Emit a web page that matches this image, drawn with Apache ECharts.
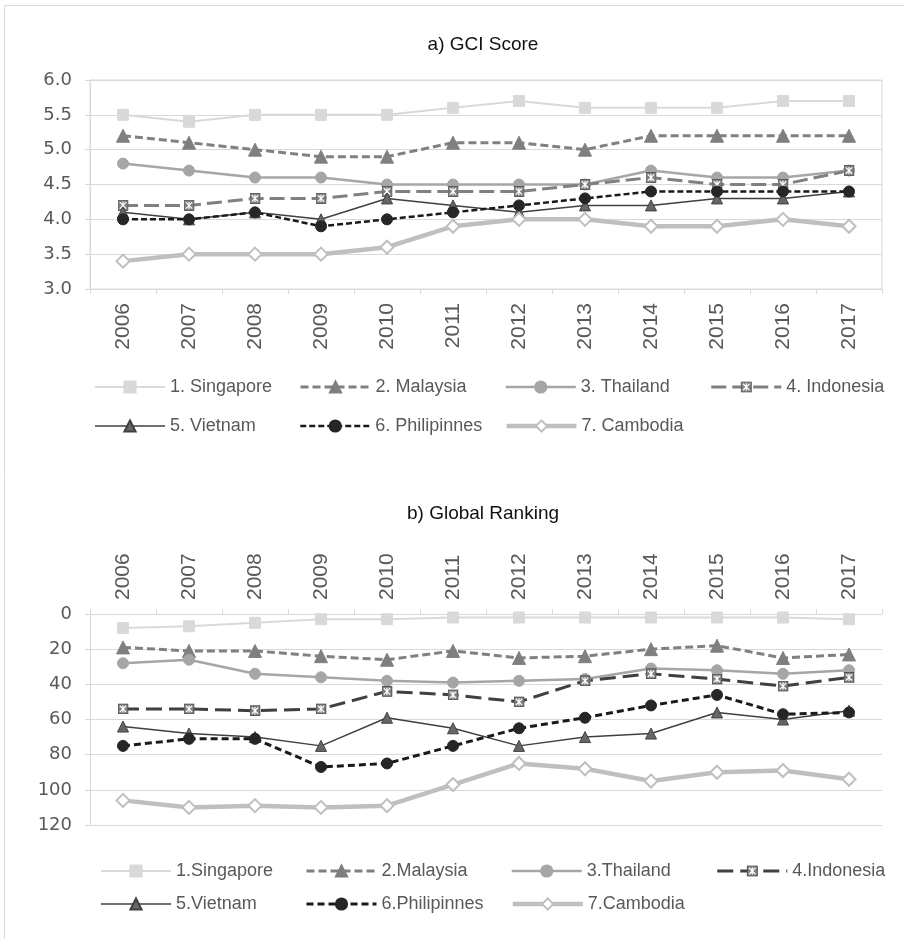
<!DOCTYPE html>
<html>
<head>
<meta charset="utf-8">
<script src="https://cdn.jsdelivr.net/npm/echarts@6/dist/echarts.min.js"></script>
<style>
html,body{margin:0;padding:0;background:#fff;}
#c{width:904px;height:939px;}
</style>
</head>
<body>
<div id="c"></div>
<script>
// ---------- data ----------
const years = ['2006','2007','2008','2009','2010','2011','2012','2013','2014','2015','2016','2017'];
const namesA = ['1. Singapore','2. Malaysia','3. Thailand','4. Indonesia','5. Vietnam','6. Philipinnes','7. Cambodia'];
const namesB = ['1.Singapore','2.Malaysia','3.Thailand','4.Indonesia','5.Vietnam','6.Philipinnes','7.Cambodia'];
const gciTicks = [3.0, 3.5, 4.0, 4.5, 5.0, 5.5, 6.0];
const rankTicks = [0, 20, 40, 60, 80, 100, 120];

const gciSingapore   = [5.5, 5.4, 5.5, 5.5, 5.5, 5.6, 5.7, 5.6, 5.6, 5.6, 5.7, 5.7];
const gciMalaysia    = [5.2, 5.1, 5.0, 4.9, 4.9, 5.1, 5.1, 5.0, 5.2, 5.2, 5.2, 5.2];
const gciThailand    = [4.8, 4.7, 4.6, 4.6, 4.5, 4.5, 4.5, 4.5, 4.7, 4.6, 4.6, 4.7];
const gciIndonesia   = [4.2, 4.2, 4.3, 4.3, 4.4, 4.4, 4.4, 4.5, 4.6, 4.5, 4.5, 4.7];
const gciVietnam     = [4.1, 4.0, 4.1, 4.0, 4.3, 4.2, 4.1, 4.2, 4.2, 4.3, 4.3, 4.4];
const gciPhilippines = [4.0, 4.0, 4.1, 3.9, 4.0, 4.1, 4.2, 4.3, 4.4, 4.4, 4.4, 4.4];
const gciCambodia    = [3.4, 3.5, 3.5, 3.5, 3.6, 3.9, 4.0, 4.0, 3.9, 3.9, 4.0, 3.9];

const rankSingapore   = [8, 7, 5, 3, 3, 2, 2, 2, 2, 2, 2, 3];
const rankMalaysia    = [19, 21, 21, 24, 26, 21, 25, 24, 20, 18, 25, 23];
const rankThailand    = [28, 26, 34, 36, 38, 39, 38, 37, 31, 32, 34, 32];
const rankIndonesia   = [54, 54, 55, 54, 44, 46, 50, 38, 34, 37, 41, 36];
const rankVietnam     = [64, 68, 70, 75, 59, 65, 75, 70, 68, 56, 60, 55];
const rankPhilippines = [75, 71, 71, 87, 85, 75, 65, 59, 52, 46, 57, 56];
const rankCambodia    = [106, 110, 109, 110, 109, 97, 85, 88, 95, 90, 89, 94];

// ---------- styles ----------
function xbox(fill, stroke) {
  const svg = "<svg xmlns='http://www.w3.org/2000/svg' width='24' height='24' viewBox='0 0 24 24'>" +
    "<rect x='1' y='1' width='22' height='22' fill='" + fill + "' stroke='" + stroke + "' stroke-width='2'/>" +
    "<path d='M5 5L19 19M19 5L5 19M12 4V20' stroke='white' stroke-width='2.6'/></svg>";
  return 'image://data:image/svg+xml;charset=utf-8,' + encodeURIComponent(svg);
}

const stylesA = [
  {color:'#d9d9d9', width:2,   type:'solid', symbol:'rect',     size:11, fill:'#d9d9d9', border:'#d9d9d9'},
  {color:'#808080', width:3,   type:[8,4],   symbol:'triangle', size:13, fill:'#7f7f7f', border:'#7f7f7f'},
  {color:'#a6a6a6', width:2.5, type:'solid', symbol:'circle',   size:11, fill:'#a6a6a6', border:'#a6a6a6'},
  {color:'#808080', width:3,   type:[15,6],  symbol:xbox('#808080','#595959'), size:11, fill:'#808080', border:'#595959'},
  {color:'#404040', width:1.5, type:'solid', symbol:'triangle', size:11, fill:'#666666', border:'#404040'},
  {color:'#1a1a1a', width:2.5, type:[6,3],   symbol:'circle',   size:11, fill:'#262626', border:'#262626'},
  {color:'#bfbfbf', width:4.5, type:'solid', symbol:'diamond',  size:13, fill:'#ffffff', border:'#bfbfbf'}
];
const stylesB = [
  {color:'#d9d9d9', width:2,   type:'solid', symbol:'rect',     size:11, fill:'#d9d9d9', border:'#d9d9d9'},
  {color:'#808080', width:3,   type:[8,4],   symbol:'triangle', size:13, fill:'#7f7f7f', border:'#7f7f7f'},
  {color:'#a6a6a6', width:2.5, type:'solid', symbol:'circle',   size:11, fill:'#a6a6a6', border:'#a6a6a6'},
  {color:'#404040', width:3,   type:[16,7],  symbol:xbox('#808080','#404040'), size:11, fill:'#808080', border:'#404040'},
  {color:'#404040', width:1.5, type:'solid', symbol:'triangle', size:11, fill:'#666666', border:'#404040'},
  {color:'#1a1a1a', width:3,   type:[7,4],   symbol:'circle',   size:11, fill:'#262626', border:'#262626'},
  {color:'#bfbfbf', width:4.5, type:'solid', symbol:'diamond',  size:13, fill:'#ffffff', border:'#bfbfbf'}
];

const gciData = [gciSingapore, gciMalaysia, gciThailand, gciIndonesia, gciVietnam, gciPhilippines, gciCambodia];
const rankData = [rankSingapore, rankMalaysia, rankThailand, rankIndonesia, rankVietnam, rankPhilippines, rankCambodia];

function makeSeries(name, data, st, idx) {
  return {
    name: name, type: 'line', data: data,
    xAxisIndex: idx, yAxisIndex: idx,
    symbol: st.symbol, symbolSize: st.size, showSymbol: true,
    lineStyle: {color: st.color, width: st.width, type: st.type},
    itemStyle: {color: st.fill, borderColor: st.border, borderWidth: st.symbol === 'diamond' ? 2 : 1},
    emphasis: {disabled: true},
    animation: false
  };
}
function legendItems(names, styles) {
  return names.map((n, i) => ({
    name: n,
    lineStyle: {width: styles[i].width, type: styles[i].type, color: styles[i].color}
  }));
}

const series = [];
namesA.forEach((n, i) => series.push(makeSeries(n, gciData[i], stylesA[i], 0)));
namesB.forEach((n, i) => series.push(makeSeries(n, rankData[i], stylesB[i], 1)));

const FONT = 'Liberation Sans';
const gridColor = '#d9d9d9';
const labelColor = '#595959';

function yAxisCfg(idx, ticks, inverse, fmt) {
  return {
    type: 'value', gridIndex: idx, inverse: inverse,
    min: ticks[0], max: ticks[ticks.length - 1], interval: ticks[1] - ticks[0],
    axisLine: {show: true, lineStyle: {color: gridColor}},
    axisTick: {show: true, length: 5, lineStyle: {color: gridColor}},
    splitLine: {show: true, lineStyle: {color: gridColor, width: 1}},
    axisLabel: {color: labelColor, fontSize: 18, fontFamily: 'DejaVu Sans', margin: 18, formatter: fmt}
  };
}
function xAxisCfg(idx, pos) {
  return {
    type: 'category', gridIndex: idx, data: years, position: pos, boundaryGap: true,
    axisLine: {show: true, lineStyle: {color: gridColor}},
    axisTick: {show: true, length: 5, alignWithLabel: false, lineStyle: {color: gridColor}},
    splitLine: {show: false},
    axisLabel: {rotate: 90, color: labelColor, fontSize: 21, fontFamily: FONT, margin: 14, interval: 0}
  };
}

const option = {
  backgroundColor: '#ffffff',
  animation: false,
  title: [
    {text: 'a) GCI Score', left: 478, top: 30, textAlign: 'center',
     textStyle: {fontSize: 19, fontWeight: 'normal', color: '#111', fontFamily: FONT}},
    {text: 'b) Global Ranking', left: 478, top: 499, textAlign: 'center',
     textStyle: {fontSize: 19, fontWeight: 'normal', color: '#111', fontFamily: FONT}}
  ],
  grid: [
    {left: 90, top: 80, width: 792, height: 209, show: true, borderColor: gridColor, borderWidth: 1, backgroundColor: 'transparent'},
    {left: 90, top: 614, width: 792, height: 211}
  ],
  xAxis: [xAxisCfg(0, 'bottom'), xAxisCfg(1, 'top')],
  yAxis: [
    yAxisCfg(0, gciTicks, false, v => v.toFixed(1)),
    yAxisCfg(1, rankTicks, true, v => String(v))
  ],
  legend: [
    {data: legendItems(namesA, stylesA), left: 94, top: 377, width: 840, padding: 0,
     itemWidth: 70, itemHeight: 14, itemGap: 19, selectedMode: false,
     lineStyle: {width: 'inherit'},
     textStyle: {fontSize: 18, color: labelColor, fontFamily: FONT, width: 110, lineHeight: 20}},
    {data: legendItems(namesB, stylesB), left: 100, top: 861, width: 840, padding: 0,
     itemWidth: 70, itemHeight: 14, itemGap: 13, selectedMode: false,
     lineStyle: {width: 'inherit'},
     textStyle: {fontSize: 18, color: labelColor, fontFamily: FONT, width: 116, lineHeight: 20}}
  ],
  graphic: [
    {type: 'rect', shape: {x: 4.5, y: 5.5, width: 1000, height: 1000}, style: {fill: 'none', stroke: '#d9d9d9', lineWidth: 1}, z: -1, silent: true}
  ],
  series: series
};

const chart = echarts.init(document.getElementById('c'), null, {renderer: 'canvas'});
chart.setOption(option);
</script>
</body>
</html>
